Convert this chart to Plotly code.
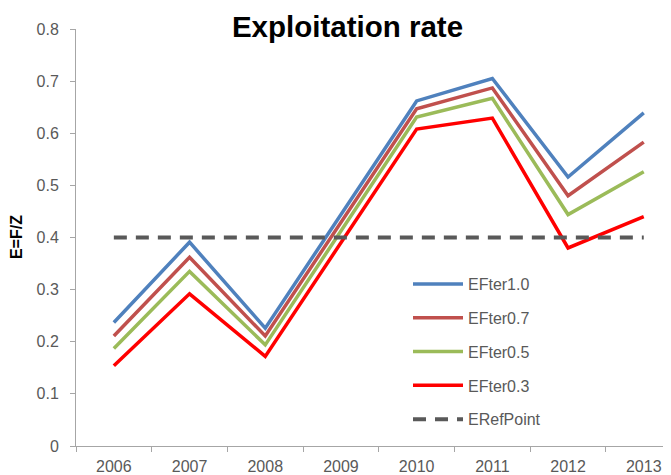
import plotly.graph_objects as go

years = ["2006", "2007", "2008", "2009", "2010", "2011", "2012", "2013"]
eft_10 = [0.237, 0.391, 0.226, 0.444, 0.662, 0.705, 0.516, 0.639]
eft_07 = [0.211, 0.362, 0.211, 0.429, 0.647, 0.687, 0.480, 0.583]
eft_05 = [0.187, 0.335, 0.194, 0.413, 0.631, 0.667, 0.444, 0.526]
eft_03 = [0.154, 0.292, 0.172, 0.390, 0.608, 0.629, 0.380, 0.440]
eref = [0.4, 0.4, 0.4, 0.4, 0.4, 0.4, 0.4, 0.4]
y_ticks = [0, 0.1, 0.2, 0.3, 0.4, 0.5, 0.6, 0.7, 0.8]
y_tick_labels = ["0", "0.1", "0.2", "0.3", "0.4", "0.5", "0.6", "0.7", "0.8"]

series = [
    ("EFter1.0", eft_10, "#4F81BD", "solid"),
    ("EFter0.7", eft_07, "#C0504D", "solid"),
    ("EFter0.5", eft_05, "#9BBB59", "solid"),
    ("EFter0.3", eft_03, "#FF0000", "solid"),
    ("ERefPoint", eref, "#595959", "13px,9px"),
]

fig = go.Figure()
for i, (name, vals, color, dash) in enumerate(series):
    fig.add_trace(go.Scatter(
        x=years, y=vals, name=name, mode="lines",
        line=dict(color=color, width=3.5 if dash == "solid" else 4, dash=dash),
        legendgroup=f"g{i}",
    ))

# page body has an 8px margin, so the figure is drawn 8px smaller
W, H = 663, 467
axis_col = "#A6A6A6"
fig.update_layout(
    width=W, height=H,
    margin=dict(l=68, r=0, t=21.3, b=29.3),
    paper_bgcolor="white", plot_bgcolor="white",
    font=dict(family="Liberation Sans, Arial, sans-serif", size=16, color="#595959"),
    title=dict(text="<b>Exploitation rate</b>", x=339.5 / W, xref="container", xanchor="center",
               y=1 - 19 / H, yref="container", yanchor="middle",
               font=dict(size=29.5, color="black", family="Liberation Sans, Arial, sans-serif")),
    xaxis=dict(type="category", range=[-0.5, 7.36], showgrid=False,
               showline=True, linecolor=axis_col, linewidth=1,
               ticks="outside", ticklen=5, tickcolor=axis_col, tickson="boundaries",
               ticklabelstandoff=6, tickfont=dict(size=16, color="#595959")),
    yaxis=dict(range=[0, 0.8], tickvals=y_ticks, ticktext=y_tick_labels, showgrid=False,
               zeroline=False, showline=True, linecolor=axis_col, linewidth=1,
               ticks="outside", ticklen=5, tickcolor=axis_col,
               ticklabelstandoff=8, tickfont=dict(size=16, color="#595959")),
    legend=dict(x=(408 - 76) / 595, y=(445.7 - 267) / 416.4, xanchor="left", yanchor="top",
                bgcolor="rgba(0,0,0,0)", tracegroupgap=10, itemwidth=50,
                font=dict(size=16, color="#595959")),
    annotations=[dict(text="<b>E=F/Z</b>", textangle=-90, x=(16 - 76) / 595, y=0.501,
                      xref="paper", yref="paper", xanchor="center", yanchor="middle",
                      showarrow=False, font=dict(size=16, color="black"))],
)

fig.write_html("out.html")
